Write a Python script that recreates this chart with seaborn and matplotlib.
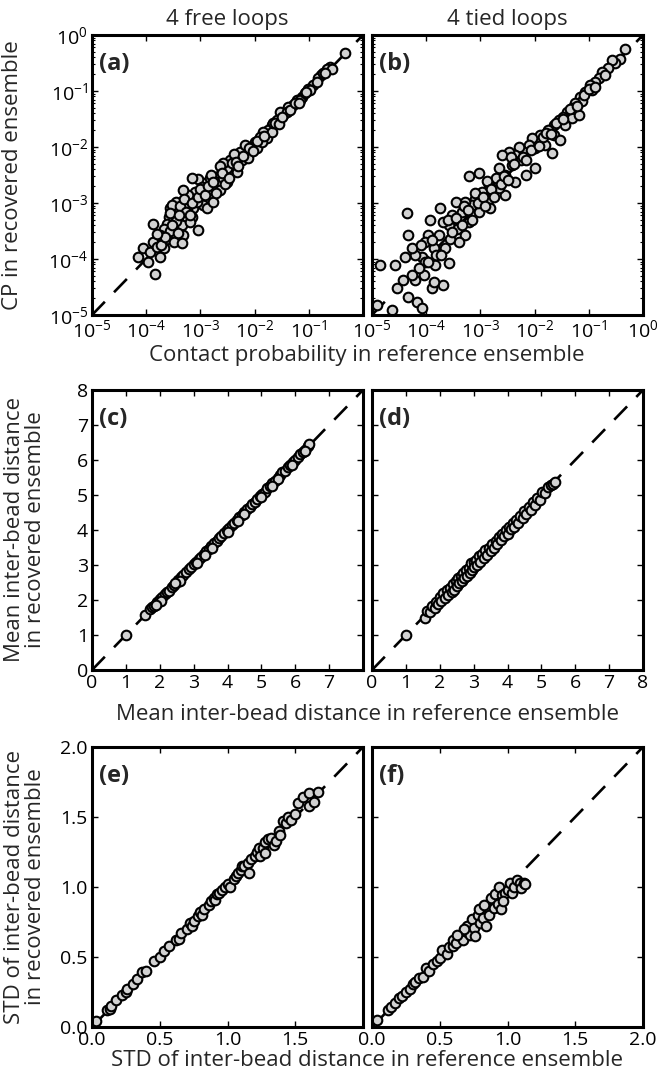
import numpy as np
import pandas as pd
import matplotlib
matplotlib.use("Agg")
import matplotlib.pyplot as plt
import seaborn as sns

# (reference, recovered) pairs, one list per panel
a_points = [
    (0.47, 0.47), (0.25, 0.27), (0.22, 0.25), (0.17, 0.19), (0.15, 0.17), (0.12, 0.13),
    (0.098, 0.11), (0.074, 0.079), (0.060, 0.069), (0.052, 0.056), (0.042, 0.052),
    (0.034, 0.037), (0.030, 0.043), (0.026, 0.030), (0.021, 0.025), (0.018, 0.020),
    (0.0145, 0.0188), (0.0126, 0.0153), (0.0167, 0.0143), (0.0102, 0.0124), (0.0088, 0.0101),
    (0.0071, 0.0083), (0.0054, 0.0083), (0.0058, 0.0059), (0.0044, 0.0067), (0.0035, 0.0059),
    (0.0041, 0.0045), (0.0031, 0.0042), (0.00265, 0.0051), (0.0023, 0.0032), (0.0031, 0.0024),
    (0.0020, 0.0024), (0.00173, 0.00183), (0.0023, 0.0017), (0.0013, 0.0016), (0.00113, 0.00224),
    (0.00092, 0.00265), (0.00106, 0.00196), (0.0008, 0.0016), (0.0015, 0.0012), (0.00113, 0.00092),
    (0.00074, 0.0008), (0.0006, 0.0014), (0.00048, 0.0017), (0.00048, 0.00106), (0.00039, 0.00075),
    (0.00056, 0.00053), (0.00069, 0.00057), (0.00034, 0.00057), (0.00027, 0.0008), (0.00026, 0.00057),
    (0.00024, 0.00043), (0.00032, 0.00035), (0.00045, 0.0004), (0.00048, 0.00027), (0.00092, 0.00033),
    (0.00064, 0.00046), (0.00021, 0.00035), (0.00018, 0.00027), (0.00024, 0.00023), (0.00032, 0.0002),
    (0.00045, 0.00019), (0.00021, 0.000155), (0.000135, 0.00042), (0.000146, 0.000055),
    (0.00007, 0.00011), (0.000089, 0.000155), (0.000117, 0.000135), (0.00011, 0.00009),
    (0.000135, 0.0002), (0.00018, 0.00011), (0.000156, 0.000166), (0.00019, 0.00018),
    (0.00027, 0.00031), (0.00039, 0.00029), (0.00036, 0.00106), (0.0003, 0.00092), (0.00056, 0.0008),
    (0.00085, 0.00106), (0.0013, 0.0008), (0.00173, 0.00106), (0.00265, 0.00275), (0.0047, 0.0036),
    (0.0023, 0.0045), (0.0015, 0.00275), (0.0041, 0.0075), (0.0067, 0.0109), (0.0077, 0.0063),
    (0.0109, 0.0095), (0.0135, 0.0124), (0.0207, 0.0188), (0.022, 0.0265), (0.039, 0.043),
    (0.045, 0.046), (0.070, 0.070), (0.085, 0.091), (0.105, 0.104), (0.14, 0.147), (0.18, 0.206),
    (0.265, 0.25), (0.00069, 0.00275), (0.0016, 0.0032),
    (0.00028, 0.00065), (0.00035, 0.00048), (0.00042, 0.0009), (0.0005, 0.0012), (0.00055, 0.00068),
    (0.0007, 0.001), (0.0009, 0.0013), (0.001, 0.0018), (0.0012, 0.0014), (0.0014, 0.002),
    (0.0017, 0.0024), (0.0019, 0.0015), (0.0025, 0.0035), (0.0028, 0.0022), (0.0033, 0.0028),
    (0.0038, 0.0052), (0.0045, 0.0055), (0.005, 0.0045), (0.0062, 0.007), (0.008, 0.0095),
    (0.0095, 0.0085), (0.011, 0.013), (0.015, 0.016), (0.024, 0.027), (0.028, 0.026),
    (0.032, 0.034), (0.055, 0.06), (0.065, 0.062), (0.09, 0.095), (0.2, 0.21), (0.00022, 0.00025),
    (0.00016, 0.00028), (0.0003, 0.0004), (0.0004, 0.0006), (0.00065, 0.0006),
]
b_points = [
    (0.47, 0.56), (0.38, 0.38), (0.31, 0.31), (0.27, 0.36), (0.23, 0.254), (0.175, 0.22),
    (0.152, 0.168), (0.132, 0.147), (0.107, 0.128), (0.115, 0.104), (0.086, 0.097), (0.07, 0.079),
    (0.075, 0.065), (0.056, 0.06), (0.049, 0.049), (0.04, 0.043), (0.034, 0.035), (0.028, 0.030),
    (0.049, 0.0325), (0.0225, 0.0247), (0.018, 0.020), (0.0225, 0.0164), (0.03, 0.0133),
    (0.021, 0.0077), (0.0128, 0.0164), (0.0119, 0.0124), (0.0103, 0.0095), (0.009, 0.0143),
    (0.0078, 0.0109), (0.0063, 0.0083), (0.0051, 0.0101), (0.0044, 0.0072), (0.0055, 0.0059),
    (0.0103, 0.0042), (0.0033, 0.0083), (0.0025, 0.0072), (0.0038, 0.0048), (0.0029, 0.0032),
    (0.0029, 0.0014), (0.0022, 0.0042), (0.0019, 0.00275), (0.00142, 0.0021), (0.0022, 0.00183),
    (0.00142, 0.0012), (0.0015, 0.0008), (0.00093, 0.0034), (0.00061, 0.003), (0.00107, 0.0016),
    (0.00081, 0.0012), (0.0007, 0.00092), (0.00093, 0.0007), (0.00053, 0.00106), (0.00046, 0.0007),
    (0.00035, 0.00106), (0.0003, 0.00061), (0.00061, 0.00046), (0.00053, 0.00027), (0.00037, 0.00035),
    (0.0004, 0.0002), (0.00026, 0.0004), (0.00028, 0.00023), (0.00018, 0.0008), (0.0002, 0.00046),
    (0.00017, 0.00027), (0.00012, 0.0005), (0.00011, 0.00027), (0.0000964, 0.0002),
    (0.000137, 0.000155), (0.000084, 0.00011), (0.000063, 0.000118), (0.000044, 0.00065),
    (0.000047, 0.00027), (0.000055, 0.000155), (0.000041, 0.00011), (0.000027, 0.000078),
    (0.000029, 0.00003), (0.0000143, 0.000078), (0.000063, 0.000042), (0.000047, 0.000021),
    (0.000068, 0.0000173), (0.000084, 0.0000132), (0.0000124, 0.0000151), (0.0000234, 0.0000123),
    (0.000038, 0.000042), (0.00009, 0.000052), (0.000128, 0.00003), (0.0002, 0.000034),
    (0.000137, 0.000039), (0.000096, 0.00009), (0.000225, 0.000155), (0.00026, 0.000084),
    (0.000073, 0.000068), (0.000147, 0.000078), (0.000055, 0.000052), (0.0068, 0.0032),
    (0.0044, 0.0024), (0.0158, 0.0109), (0.037, 0.0247), (0.065, 0.037),
    (0.00025, 0.0005), (0.0003, 0.0003), (0.00035, 0.00055), (0.00045, 0.0004), (0.0005, 0.0009),
    (0.0006, 0.00075), (0.0007, 0.0005), (0.0008, 0.0015), (0.0009, 0.001), (0.0011, 0.0013),
    (0.0012, 0.0009), (0.0013, 0.0025), (0.0016, 0.0018), (0.0018, 0.0013), (0.0024, 0.0022),
    (0.0027, 0.003), (0.0032, 0.0026), (0.0036, 0.0065), (0.0042, 0.005), (0.006, 0.0065),
    (0.007, 0.0058), (0.0085, 0.009), (0.012, 0.0105), (0.014, 0.015), (0.016, 0.018),
    (0.02, 0.017), (0.025, 0.027), (0.033, 0.031), (0.045, 0.047), (0.06, 0.055), (0.08, 0.085),
    (0.1, 0.11), (0.13, 0.12), (0.2, 0.19), (0.00013, 0.00022), (0.00015, 0.00012),
    (0.00008, 0.00018), (0.00011, 0.00009), (0.00019, 0.00012),
]
c_points = [
    (1.0, 1.0), (1.55, 1.57), (1.72, 1.74), (1.78, 1.8), (1.83, 1.84), (1.88, 1.9), (1.92, 1.95),
    (1.97, 1.98), (2.02, 2.04), (2.08, 2.1), (2.15, 2.17), (2.22, 2.24), (2.28, 2.27), (2.35, 2.37),
    (2.42, 2.43), (2.5, 2.52), (2.55, 2.56), (2.63, 2.66), (2.7, 2.71), (2.78, 2.8), (2.85, 2.88),
    (2.93, 2.93), (3.0, 3.02), (3.08, 3.1), (3.15, 3.17), (3.22, 3.22), (3.3, 3.32), (3.38, 3.4),
    (3.45, 3.45), (3.52, 3.55), (3.6, 3.62), (3.68, 3.7), (3.75, 3.77), (3.82, 3.83), (3.9, 3.92),
    (3.98, 4.0), (4.05, 4.06), (4.12, 4.15), (4.2, 4.2), (4.28, 4.3), (4.35, 4.37), (4.42, 4.43),
    (4.5, 4.52), (4.58, 4.6), (4.65, 4.66), (4.72, 4.75), (4.8, 4.8), (4.88, 4.9), (4.95, 4.96),
    (5.02, 5.04), (5.1, 5.1), (5.18, 5.2), (5.25, 5.26), (5.32, 5.35), (5.4, 5.4), (5.48, 5.5),
    (5.55, 5.56), (5.62, 5.65), (5.7, 5.7), (5.78, 5.8), (5.85, 5.87), (5.92, 5.95), (6.0, 6.0),
    (6.08, 6.1), (6.15, 6.18), (6.22, 6.24), (6.3, 6.3), (6.38, 6.4), (6.42, 6.45),
    (2.05, 1.98), (2.6, 2.55), (3.1, 3.05), (3.55, 3.5), (4.0, 3.95), (4.5, 4.45), (5.0, 4.95),
    (5.5, 5.45), (5.9, 5.85), (6.3, 6.25), (1.9, 1.85), (2.45, 2.5), (3.35, 3.3), (4.3, 4.25),
    (5.3, 5.25),
]
d_points = [
    (1.0, 1.0), (1.55, 1.5), (1.62, 1.7), (1.7, 1.65), (1.78, 1.82), (1.85, 1.78), (1.9, 1.95),
    (1.95, 1.88), (2.02, 2.1), (2.05, 1.98), (2.1, 2.2), (2.15, 2.05), (2.2, 2.28), (2.25, 2.15),
    (2.3, 2.35), (2.35, 2.22), (2.4, 2.45), (2.42, 2.3), (2.48, 2.55), (2.5, 2.4), (2.55, 2.62),
    (2.58, 2.48), (2.62, 2.7), (2.65, 2.55), (2.7, 2.78), (2.72, 2.62), (2.78, 2.85), (2.8, 2.7),
    (2.85, 2.92), (2.88, 2.78), (2.92, 3.05), (2.95, 2.85), (3.0, 3.1), (3.02, 2.95), (3.08, 3.15),
    (3.1, 3.0), (3.15, 3.25), (3.2, 3.1), (3.25, 3.32), (3.3, 3.2), (3.35, 3.42), (3.4, 3.3),
    (3.45, 3.5), (3.5, 3.4), (3.55, 3.6), (3.6, 3.5), (3.65, 3.7), (3.7, 3.6), (3.75, 3.8),
    (3.8, 3.72), (3.85, 3.9), (3.9, 3.82), (3.95, 4.0), (4.0, 3.9), (4.05, 4.1), (4.1, 4.02),
    (4.15, 4.2), (4.2, 4.1), (4.25, 4.3), (4.3, 4.2), (4.38, 4.4), (4.45, 4.35), (4.5, 4.55),
    (4.55, 4.45), (4.62, 4.65), (4.7, 4.58), (4.75, 4.8), (4.82, 4.72), (4.88, 4.92), (4.95, 4.85),
    (5.02, 5.08), (5.1, 5.05), (5.2, 5.22), (5.28, 5.3), (5.35, 5.32), (5.4, 5.38),
]
e_points = [
    (0.03, 0.04), (0.11, 0.12), (0.13, 0.13), (0.14, 0.15), (0.18, 0.19), (0.22, 0.23), (0.25, 0.25),
    (0.26, 0.27), (0.3, 0.31), (0.33, 0.34), (0.37, 0.39), (0.4, 0.4), (0.46, 0.47), (0.5, 0.5),
    (0.53, 0.54), (0.57, 0.58), (0.62, 0.62), (0.64, 0.63), (0.66, 0.67), (0.7, 0.7), (0.72, 0.74),
    (0.74, 0.72), (0.75, 0.76), (0.78, 0.79), (0.8, 0.82), (0.81, 0.8), (0.83, 0.84), (0.86, 0.87),
    (0.88, 0.9), (0.9, 0.92), (0.91, 0.91), (0.92, 0.95), (0.94, 0.96), (0.96, 0.98), (0.98, 1.0),
    (1.0, 1.02), (1.02, 1.0), (1.05, 1.06), (1.06, 1.08), (1.08, 1.1), (1.1, 1.12), (1.11, 1.15),
    (1.12, 1.15), (1.15, 1.17), (1.16, 1.1), (1.17, 1.2), (1.2, 1.22), (1.22, 1.25), (1.23, 1.28),
    (1.24, 1.22), (1.26, 1.28), (1.28, 1.24), (1.28, 1.32), (1.3, 1.34), (1.32, 1.35), (1.34, 1.3),
    (1.36, 1.33), (1.38, 1.4), (1.39, 1.37), (1.41, 1.47), (1.43, 1.46), (1.45, 1.5), (1.47, 1.48),
    (1.5, 1.52), (1.52, 1.6), (1.56, 1.64), (1.6, 1.58), (1.6, 1.67), (1.64, 1.61), (1.67, 1.68),
]
f_points = [
    (0.04, 0.05), (0.12, 0.12), (0.14, 0.14), (0.17, 0.17), (0.2, 0.21), (0.22, 0.22), (0.25, 0.25),
    (0.28, 0.27), (0.3, 0.31), (0.32, 0.32), (0.35, 0.35), (0.38, 0.36), (0.4, 0.42), (0.42, 0.4),
    (0.45, 0.45), (0.48, 0.47), (0.5, 0.49), (0.52, 0.55), (0.55, 0.52), (0.57, 0.57), (0.6, 0.58),
    (0.6, 0.62), (0.62, 0.6), (0.65, 0.65), (0.67, 0.62), (0.7, 0.68), (0.7, 0.72), (0.72, 0.66),
    (0.74, 0.77), (0.75, 0.71), (0.76, 0.65), (0.78, 0.8), (0.8, 0.74), (0.79, 0.84), (0.82, 0.78),
    (0.84, 0.72), (0.85, 0.86), (0.86, 0.8), (0.88, 0.92), (0.9, 0.85), (0.91, 0.95), (0.93, 0.88),
    (0.94, 1.0), (0.95, 0.84), (0.96, 0.94), (0.98, 0.96), (1.0, 0.98), (1.02, 1.03), (1.03, 0.96),
    (1.05, 1.0), (1.07, 1.05), (1.09, 1.03), (1.1, 0.99), (1.12, 1.03), (1.13, 1.02), (0.97, 0.9),
    (0.83, 0.87), (0.68, 0.7), (0.63, 0.66),
]

col_titles = ["4 free loops", "4 tied loops"]
panel_tags = ["(a)", "(b)", "(c)", "(d)", "(e)", "(f)"]
row_xlabels = ["Contact probability in reference ensemble",
               "Mean inter-bead distance in reference ensemble",
               "STD of inter-bead distance in reference ensemble"]
row_ylabels = ["CP in recovered ensemble",
               "Mean inter-bead distance\nin recovered ensemble",
               "STD of inter-bead distance\nin recovered ensemble"]
row_limits = [(1e-5, 1.0), (0, 8), (0, 2)]
log_ticks = [1e-5, 1e-4, 1e-3, 1e-2, 1e-1, 1e0]
log_labels = [r"$10^{-5}$", r"$10^{-4}$", r"$10^{-3}$", r"$10^{-2}$", r"$10^{-1}$", r"$10^{0}$"]
mean_ticks = [0, 1, 2, 3, 4, 5, 6, 7, 8]
std_ticks = [0.0, 0.5, 1.0, 1.5, 2.0]

sns.set_style("ticks")
fam = "Open Sans"
plt.rcParams["font.family"] = [fam, "DejaVu Sans"]
plt.rcParams.update({
    "mathtext.fontset": "custom",
    "mathtext.rm": fam,
    "mathtext.it": fam,
    "mathtext.bf": fam + ":bold",
    "axes.linewidth": 2.2,
    "axes.edgecolor": "black",
    "xtick.direction": "in",
    "ytick.direction": "in",
    "xtick.top": True,
    "ytick.right": True,
    "xtick.major.size": 4.5,
    "ytick.major.size": 4.5,
    "xtick.minor.size": 2.2,
    "ytick.minor.size": 2.2,
    "xtick.major.width": 1.0,
    "ytick.major.width": 1.0,
    "xtick.minor.width": 0.8,
    "ytick.minor.width": 0.8,
    "xtick.labelsize": 14,
    "ytick.labelsize": 14,
    "xtick.color": "black",
    "ytick.color": "black",
})

fig = plt.figure(figsize=(6.59, 10.73), dpi=100)
W, H = 659, 1073
lefts = [92, 372]
tops = [35, 390, 747]
aw, ah = 271, 280
label_x = [-0.255, -0.168, -0.168]

panels = [a_points, b_points, c_points, d_points, e_points, f_points]

for i, pts in enumerate(panels):
    row, col = divmod(i, 2)
    ax = fig.add_axes([lefts[col] / W, 1 - (tops[row] + ah) / H, aw / W, ah / H])
    lo, hi = row_limits[row]
    df = pd.DataFrame(pts, columns=["reference", "recovered"])

    diag = pd.DataFrame({"reference": [lo, hi], "recovered": [lo, hi]})
    sns.lineplot(data=diag, x="reference", y="recovered", ax=ax, color="black",
                 lw=1.9, dashes=False, zorder=1)
    ax.lines[-1].set_linestyle((0, (7, 5)))
    sns.scatterplot(data=df, x="reference", y="recovered", ax=ax, s=48,
                    color="#d2d2d2", edgecolor="black", linewidth=1.5, zorder=2)

    if row == 0:
        ax.set_xscale("log")
        ax.set_yscale("log")
        ticks, labels = log_ticks, log_labels
    elif row == 1:
        ticks, labels = mean_ticks, [str(t) for t in mean_ticks]
    else:
        ticks, labels = std_ticks, [f"{t:.1f}" for t in std_ticks]

    ax.set_xlim(lo, hi)
    ax.set_ylim(lo, hi)
    xl = list(labels)
    if col == 0:
        xl[-1] = ""
    ax.set_xticks(ticks, xl)
    if col == 0:
        ax.set_yticks(ticks, labels)
    else:
        ax.set_yticks(ticks, [""] * len(ticks))
    if row != 0:
        ax.minorticks_off()
    ax.tick_params(axis="both", which="both", pad=3)

    ax.set_xlabel("")
    if col == 0:
        ax.set_ylabel(row_ylabels[row], fontsize=16, linespacing=1.0)
        ax.yaxis.set_label_coords(label_x[row], 0.5)
    else:
        ax.set_ylabel("")

    if row == 0:
        ax.set_title(col_titles[col], fontsize=16, pad=7)

    ax.text(0.025, 0.895, panel_tags[i], transform=ax.transAxes, fontsize=17,
            fontweight="bold", ha="left", va="center")

xl_y = [355, 714, 1060]
for row in range(3):
    fig.text(367 / W, 1 - xl_y[row] / H, row_xlabels[row], fontsize=16,
             ha="center", va="center")

fig.savefig("out.png", dpi=100)
